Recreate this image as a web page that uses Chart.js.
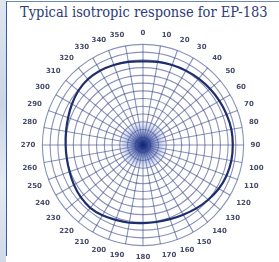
<!DOCTYPE html>
<html>
<head>
<meta charset="utf-8">
<script src="https://cdn.jsdelivr.net/npm/chart.js@4"></script>
<style>
  html, body { margin: 0; padding: 0; background: #fff; }
  #frame { position: relative; width: 279px; height: 262px; overflow: hidden; background: #fff; }
  #strip { position: absolute; left: 0; top: 0; width: 6px; height: 262px;
           background: linear-gradient(#dfe6f0, #c9d5e6 40%, #e4eaf2 70%, #cfd9e8); }
  #border { position: absolute; left: 6px; top: 1px; right: -2px; bottom: 6px;
            border-left: 1.5px solid #3a57a0; border-top: 1.5px solid #6f86b8; }
  #title { position: absolute; left: 20px; top: 4px; font-family: "DejaVu Serif", serif; font-stretch: condensed;
           font-size: 14.5px; color: #2c3b78; white-space: nowrap; }
  #wrap { position: absolute; left: 15px; top: 29px; width: 256px; height: 233px; }
</style>
</head>
<body>
<div id="frame">
  <div id="strip"></div>
  <div id="border"></div>
  <div id="title">Typical isotropic response for EP-183</div>
  <div id="wrap"><canvas id="myChart"></canvas></div>
</div>
<script>
// angle labels, degrees
var angles = ['0','10','20','30','40','50','60','70','80','90','100','110','120','130','140','150','160','170',
              '180','190','200','210','220','230','240','250','260','270','280','290','300','310','320','330','340','350'];
// response (ring units)
var response = [10.8, 10.9, 11.0, 11.1, 11.2, 11.3, 11.4, 11.5, 11.6, 11.6, 11.6, 11.5, 11.3, 11.0, 10.7, 10.4, 10.2, 10.1,
                10.1, 10.2, 10.3, 10.5, 10.6, 10.5, 10.3, 10.1, 10.0, 10.0, 10.1, 10.3, 10.6, 10.9, 11.1, 11.1, 11.0, 10.9];
var ringMax = 13;

// dark blur where the spokes meet
var centerGlow = {
    id: 'centerGlow',
    beforeDatasetsDraw: function(chart) {
        var s = chart.scales.r;
        var c = chart.ctx;
        var g = c.createRadialGradient(s.xCenter, s.yCenter, 0, s.xCenter, s.yCenter, 26);
        g.addColorStop(0, 'rgba(20,35,120,1)');
        g.addColorStop(0.3, 'rgba(45,65,150,0.75)');
        g.addColorStop(0.7, 'rgba(110,130,200,0.35)');
        g.addColorStop(1, 'rgba(150,165,215,0)');
        c.save();
        c.fillStyle = g;
        c.beginPath();
        c.arc(s.xCenter, s.yCenter, 26, 0, Math.PI * 2);
        c.fill();
        c.restore();
    }
};

var ctx = document.getElementById('myChart').getContext('2d');
var myChart = new Chart(ctx, {
    type: 'radar',
    data: {
        labels: angles,
        datasets: [{
            data: response,
            borderColor: '#1e2d6e',
            borderWidth: 2.2,
            backgroundColor: 'rgba(0,0,0,0)',
            pointRadius: 0,
            tension: 0.4,
            fill: false
        }]
    },
    options: {
        responsive: true,
        maintainAspectRatio: false,
        animation: false,
        layout: { padding: 0 },
        plugins: { legend: { display: false }, tooltip: { enabled: false } },
        scales: {
            r: {
                min: 0,
                max: ringMax,
                ticks: { display: false, stepSize: 1 },
                grid: { circular: true, color: 'rgba(60,75,135,0.6)', lineWidth: 1.1 },
                angleLines: { color: 'rgba(60,75,135,0.6)', lineWidth: 1.1 },
                pointLabels: {
                    color: '#454b68',
                    padding: 7,
                    font: { size: 7, weight: 'bold', family: 'DejaVu Sans' }
                }
            }
        }
    },
    plugins: [centerGlow]
});
</script>
</body>
</html>
